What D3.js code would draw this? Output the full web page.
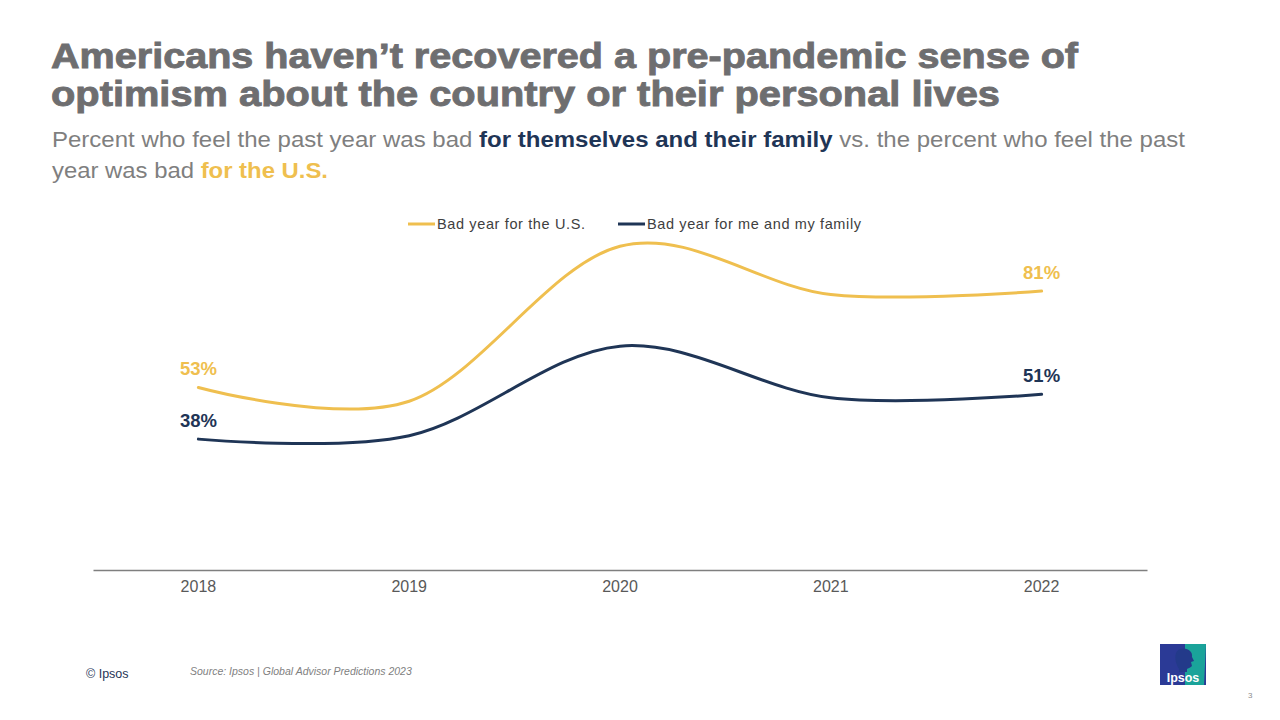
<!DOCTYPE html>
<html><head><meta charset="utf-8">
<script src="https://cdn.jsdelivr.net/npm/d3@7/dist/d3.min.js"></script>
<style>
html,body{margin:0;padding:0;background:#fff;}
svg{display:block;font-family:"Liberation Sans",Arial,sans-serif;}
</style></head>
<body>
<svg id="c" width="1280" height="720"></svg>
<script>
const years = ["2018","2019","2020","2021","2022"];
const usBad = [53, 49, 94, 80, 81];
const familyBad = [38, 39, 65, 50, 51];
const seriesNames = ["Bad year for the U.S.", "Bad year for me and my family"];
const seriesColors = ["#EFBF4F", "#1F3556"];
const titleLines = ["Americans haven\u2019t recovered a pre-pandemic sense of",
                    "optimism about the country or their personal lives"];

const svg = d3.select("#c");

// Title
const title = svg.append("g");
titleLines.forEach((t,i)=>{
  title.append("text").attr("x",51).attr("y",68+i*38)
    .attr("font-size",35.5).attr("font-weight","bold")
    .attr("fill","#6E6E70").attr("stroke","#6E6E70").attr("stroke-width",0.9)
    .attr("textLength", i===0?1027:949).attr("lengthAdjust","spacingAndGlyphs")
    .text(t);
});

// Subtitle
const sub1 = svg.append("text").attr("x",52).attr("y",147).attr("font-size",22.5).attr("fill","#7F7F7F")
  .attr("textLength",1133).attr("lengthAdjust","spacingAndGlyphs");
sub1.append("tspan").text("Percent who feel the past year was bad ");
sub1.append("tspan").attr("fill","#1F3556").attr("font-weight","bold").text("for themselves and their family");
sub1.append("tspan").text(" vs. the percent who feel the past");
const sub2 = svg.append("text").attr("x",52).attr("y",178).attr("font-size",22.5).attr("fill","#7F7F7F")
  .attr("textLength",276).attr("lengthAdjust","spacingAndGlyphs");
sub2.append("tspan").text("year was bad ");
sub2.append("tspan").attr("fill","#EFBF4F").attr("font-weight","bold").text("for the U.S.");

// Scales
const x = d3.scaleBand().domain(years).range([93,1147]).padding(0);
const cx = d => x(d) + x.bandwidth()/2;
const y = d3.scaleLinear().domain([0,100]).range([570, 225.6]);

// Axis
const xAxis = d3.axisBottom(x).tickSize(0).tickPadding(11);
const ax = svg.append("g").attr("transform","translate(0,570)").call(xAxis);
ax.select(".domain").attr("stroke","#7F7F7F").attr("stroke-width",1.3);
ax.selectAll("text").attr("font-size",16).attr("fill","#595959").attr("font-family","Liberation Sans, Arial, sans-serif");

// Lines
const line = d3.line().x((d,i)=>cx(years[i])).y(d=>y(d)).curve(d3.curveCardinal.tension(0));
const data = [usBad, familyBad];
data.forEach((s,k)=>{
  svg.append("path").attr("d",line(s)).attr("fill","none")
    .attr("stroke",seriesColors[k]).attr("stroke-width",3).attr("stroke-linecap","round");
});

// Data labels (first and last)
data.forEach((s,k)=>{
  [0, s.length-1].forEach(i=>{
    svg.append("text").attr("x",cx(years[i])).attr("y",y(s[i])-12.5)
      .attr("text-anchor","middle").attr("font-size",18.5).attr("font-weight","bold")
      .attr("fill",seriesColors[k]).text(s[i]+"%");
  });
});

// Legend
const legendX = [408, 618];
const legendLen = [148, 214];
seriesNames.forEach((n,k)=>{
  svg.append("line").attr("x1",legendX[k]).attr("x2",legendX[k]+27).attr("y1",224).attr("y2",224)
    .attr("stroke",seriesColors[k]).attr("stroke-width",3);
  svg.append("text").attr("x",legendX[k]+29).attr("y",229).attr("font-size",14.5).attr("fill","#404040")
    .attr("textLength",legendLen[k]).attr("lengthAdjust","spacing").text(n);
});

// Footer
svg.append("text").attr("x",86).attr("y",678).attr("font-size",12.5).attr("fill","#1F3556").text("\u00A9 Ipsos");
svg.append("text").attr("x",190).attr("y",675).attr("font-size",10.5).attr("font-style","italic").attr("fill","#7F7F7F")
  .text("Source: Ipsos | Global Advisor Predictions 2023");
svg.append("text").attr("x",1248).attr("y",698).attr("font-size",8).attr("fill","#8C8C8C").text("3");

// Logo
const logo = svg.append("g").attr("transform","translate(1160,644)");
logo.append("rect").attr("x",0).attr("y",0).attr("width",46).attr("height",41).attr("fill","#2B3A96");
logo.append("path").attr("d","M25,0 L46,0 L44,41 L25,41 Z").attr("fill","#1AA39A");
logo.append("path").attr("d","M20,5 C27,3 33,7 32,13 L34,17 L31,18 L32,22 C30,24 28,24 27,25 L27,28 L19,28 C20,25 18,24 17,21 C14,14 15,7 20,5 Z")
  .attr("fill","#233A8A");
logo.append("text").attr("x",23).attr("y",38).attr("text-anchor","middle").attr("font-size",12.5).attr("font-weight","bold")
  .attr("fill","#fff").text("Ipsos");
</script>
</body></html>
